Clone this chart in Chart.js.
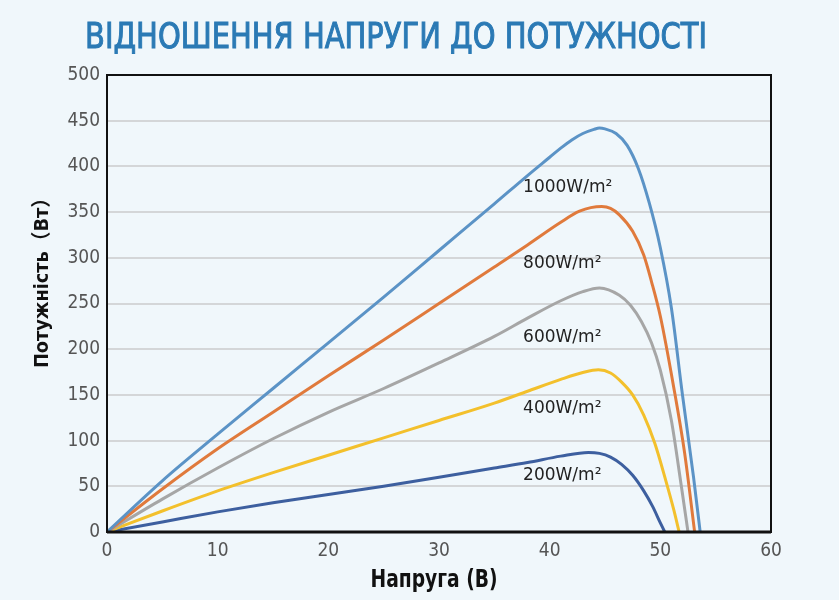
<!DOCTYPE html>
<html>
<head>
<meta charset="utf-8">
<script src="https://cdn.jsdelivr.net/npm/chart.js@4.4.1/dist/chart.umd.min.js"></script>
<style>
    html, body { margin: 0; padding: 0; background: #f0f7fb; }
    #wrap { width: 839px; height: 600px; }
</style>
</head>
<body>
<div id="wrap"><canvas id="chart" width="839" height="600"></canvas></div>
<script>
const titleText = 'ВІДНОШЕННЯ НАПРУГИ ДО ПОТУЖНОСТІ'
const xTitle = 'Напруга (В)'
const yTitle = 'Потужність（Вт）'

const seriesNames = ['1000W/m²', '800W/m²', '600W/m²', '400W/m²', '200W/m²']
const seriesColors = ['#5b93c6', '#e07a3c', '#a6a6a6', '#f3c02c', '#3d5f9f']

// voltage (V) / power (W)
const volt1000 = [0, 5, 10, 15, 20, 25, 30, 35, 38, 40, 41, 42, 43, 44, 44.5, 45, 46, 47, 48, 49, 50, 51, 52, 53, 53.6]
const pow1000 = [0, 56, 107, 157, 207, 257, 308, 359, 390, 410, 420, 429, 436, 440.5, 442, 441, 436, 423, 398, 360, 311, 245, 150, 60, 0]

const volt800 = [0, 5, 10, 15, 20, 25, 30, 35, 38, 40.9, 42.7, 44.7, 45.5, 46.3, 47.5, 48.5, 49.2, 50, 51.2, 52.2, 53.1]
const pow800 = [0, 47, 91, 131, 171, 210, 250, 290, 314, 338, 351, 356, 354, 347, 329, 303, 274, 236, 159, 86, 0]

const volt600 = [0, 5, 10, 15, 20, 25, 30, 35, 38, 41, 43, 44.5, 46.3, 47.3, 48.3, 49.2, 50, 51, 51.9, 52.5]
const pow600 = [0, 36, 70, 102, 131, 157, 185, 214, 234, 253, 263, 267, 259, 248, 230, 207, 177, 122, 50, 0]

const volt400 = [0, 5, 10, 15, 20, 25, 30, 35, 38, 41, 43, 44.4, 45.5, 46.5, 47.5, 48.5, 49.5, 50.5, 51.2, 51.7]
const pow400 = [0, 23, 45, 65, 84, 103, 122, 141, 154, 167, 174.5, 177.5, 174, 164, 150, 128, 97, 56, 25, 0]

const volt200 = [0, 5, 10, 15, 20, 25, 30, 35, 38, 41, 43.5, 44.5, 45.5, 46.5, 47.5, 48.5, 49.3, 50, 50.4]
const pow200 = [0, 11, 22, 32, 41, 50, 60, 70, 76, 83, 87, 86, 82, 74, 62, 45, 28, 10, 0]

// where the irradiance labels sit, in axis units
const labelVolt = 37.6
const labelPower = [377, 294, 213, 135, 62]

const volts = [volt1000, volt800, volt600, volt400, volt200]
const powers = [pow1000, pow800, pow600, pow400, pow200]

const datasets = seriesNames.map((name, i) => ({
    label: name,
    data: volts[i].map((v, j) => ({ x: v, y: powers[i][j] })),
    showLine: true,
    borderColor: seriesColors[i],
    borderWidth: 3,
    pointRadius: 0,
    cubicInterpolationMode: 'monotone',
}))

const extras = {
    id: 'extras',
    beforeDraw(chart) {
        const ctx = chart.ctx
        ctx.save()
        ctx.fillStyle = '#f0f7fb'
        ctx.fillRect(0, 0, chart.width, chart.height)
        ctx.restore()
    },
    afterDraw(chart) {
        const { ctx, chartArea: a, scales: { x, y } } = chart
        ctx.save()
        // frame + zero line
        ctx.strokeStyle = '#111'
        ctx.lineWidth = 2
        ctx.strokeRect(a.left, a.top, a.right - a.left, a.bottom - a.top)
        ctx.lineWidth = 3
        ctx.beginPath()
        ctx.moveTo(a.left, a.bottom)
        ctx.lineTo(a.right, a.bottom)
        ctx.stroke()

        // irradiance labels
        ctx.font = '17px "DejaVu Sans"'
        ctx.fillStyle = '#222'
        ctx.textBaseline = 'middle'
        seriesNames.forEach((n, i) => {
            ctx.fillText(n, x.getPixelForValue(labelVolt), y.getPixelForValue(labelPower[i]))
        })

        // axis titles
        ctx.fillStyle = '#111'
        ctx.textAlign = 'center'
        ctx.font = 'bold 24px "DejaVu Sans Condensed"'
        ctx.fillText(xTitle, (a.left + a.right) / 2 - 5, 581, 127)
        ctx.save()
        ctx.translate(43, 278)
        ctx.rotate(-Math.PI / 2)
        ctx.font = 'bold 20px "DejaVu Sans Condensed", "Noto Sans CJK SC"'
        ctx.fillText(yTitle, 0, 0, 180)
        ctx.restore()

        // title
        ctx.textAlign = 'left'
        ctx.textBaseline = 'alphabetic'
        ctx.font = '36px "DejaVu Sans Condensed"'
        ctx.fillStyle = '#2b7ab5'
        ctx.strokeStyle = '#2b7ab5'
        ctx.lineWidth = 1
        ctx.fillText(titleText, 85, 48, 622)
        ctx.strokeText(titleText, 85, 48, 622)
        ctx.restore()
    },
}

new Chart(document.getElementById('chart'), {
    type: 'scatter',
    data: { datasets },
    options: {
        responsive: false,
        animation: false,
        layout: { padding: { top: 75, right: 68, left: 0, bottom: 0 } },
        plugins: { legend: { display: false }, tooltip: { enabled: false } },
        scales: {
            x: {
                min: 0,
                max: 60,
                ticks: { stepSize: 10, color: '#555', padding: 8, font: { family: '"DejaVu Sans Condensed"', size: 19 } },
                grid: { display: false, drawTicks: false },
                border: { display: false },
                afterFit(s) { s.height = 68 },
            },
            y: {
                min: 0,
                max: 500,
                ticks: { stepSize: 50, color: '#555', padding: 7, font: { family: '"DejaVu Sans Condensed"', size: 19 } },
                grid: { color: '#d4d6d8', lineWidth: 2, drawTicks: false },
                border: { display: false },
                afterFit(s) { s.width = 107 },
            },
        },
    },
    plugins: [extras],
})
</script>
</body>
</html>
